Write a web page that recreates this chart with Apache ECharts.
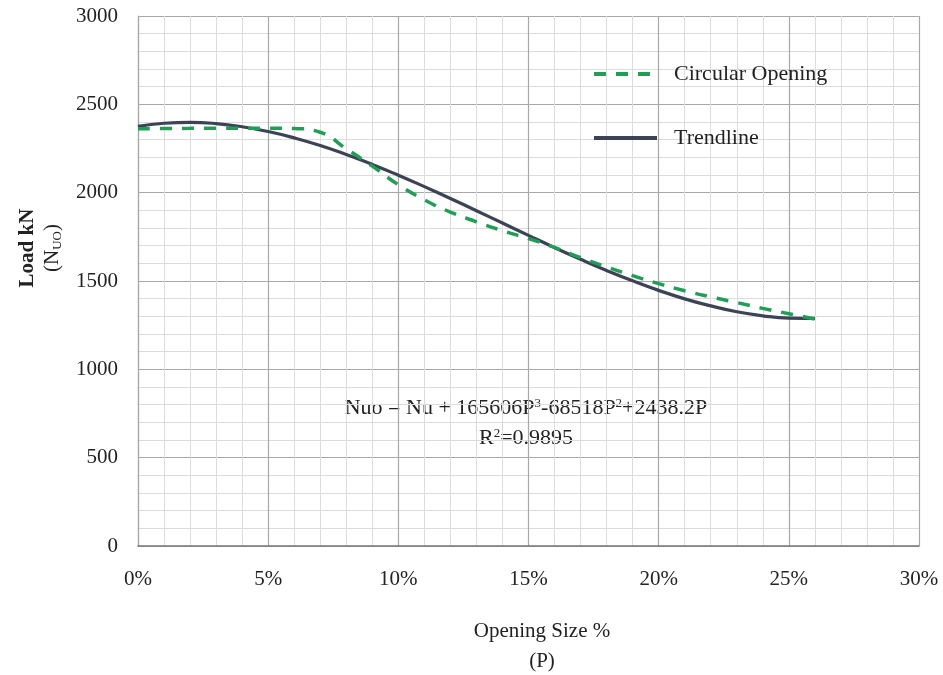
<!DOCTYPE html>
<html>
<head>
<meta charset="utf-8">
<script src="https://cdn.jsdelivr.net/npm/echarts@6/dist/echarts.min.js"></script>
<style>
  html, body { margin: 0; padding: 0; background: #fff; }
  #chart { width: 943px; height: 675px; }
</style>
</head>
<body>
<div id="chart"></div>
<script>
  // opening size P in percent
  var openingPct = [0, 1, 2, 3, 4, 5, 6, 7, 8, 9, 10, 11, 12, 13, 14, 15, 16, 17, 18, 19, 20, 21, 22, 23, 24, 25, 26];
  // circular opening test results (kN)
  var circularLoad = [2362, 2363, 2364, 2365, 2365, 2365, 2363, 2342, 2248, 2150, 2045, 1960, 1890, 1835, 1785, 1740, 1690, 1632, 1580, 1530, 1485, 1445, 1410, 1378, 1345, 1315, 1285];
  // trendline (kN)
  var trendLoad = [2375, 2393, 2398, 2391, 2373, 2346, 2310, 2267, 2216, 2160, 2099, 2034, 1967, 1898, 1828, 1758, 1689, 1623, 1560, 1501, 1447, 1399, 1359, 1326, 1303, 1290, 1288];

  var fontFam = 'Liberation Serif';
  var chart = echarts.init(document.getElementById('chart'));

  function pairs(ys) {
    return openingPct.map(function (x, i) { return [x, ys[i]]; });
  }

  var option = {
    backgroundColor: '#fff',
    animation: false,
    textStyle: { fontFamily: fontFam, color: '#222' },
    grid: { left: 138, right: 24, top: 16, bottom: 129 },
    legend: {
      orient: 'vertical',
      left: 587,
      top: 58,
      itemWidth: 63,
      itemHeight: 14,
      itemGap: 42,
      itemStyle: { opacity: 0 },
      lineStyle: { width: 4 },
      textStyle: { fontFamily: fontFam, fontSize: 22, color: '#222', padding: [0, 0, 0, 12] },
      data: ['Circular Opening', 'Trendline']
    },
    xAxis: {
      type: 'value',
      min: 0,
      max: 30,
      interval: 5,
      axisLine: { show: true, lineStyle: { color: '#777', width: 1.5 } },
      axisTick: { show: false },
      axisLabel: { formatter: '{value}%', fontFamily: fontFam, fontSize: 21, color: '#222', margin: 23 },
      splitLine: { show: true, lineStyle: { color: '#a8a8a8', width: 1.2 } },
      minorTick: { show: false, splitNumber: 5 },
      minorSplitLine: { show: true, lineStyle: { color: '#dcdcdc', width: 1 } }
    },
    yAxis: {
      type: 'value',
      min: 0,
      max: 3000,
      interval: 500,
      axisLine: { show: true, lineStyle: { color: '#a8a8a8', width: 1.2 } },
      axisTick: { show: false },
      axisLabel: {
        formatter: function (v) { return String(v); },
        fontFamily: fontFam, fontSize: 21, color: '#222', margin: 20
      },
      splitLine: { show: true, lineStyle: { color: '#a8a8a8', width: 1.2 } },
      minorTick: { show: false, splitNumber: 5 },
      minorSplitLine: { show: true, lineStyle: { color: '#dcdcdc', width: 1 } }
    },
    series: [
      {
        name: 'Circular Opening',
        type: 'line',
        data: pairs(circularLoad),
        smooth: true,
        symbol: 'none',
        z: 3,
        lineStyle: { color: '#1f9e55', width: 3.5, type: [12, 10] },
        itemStyle: { color: '#1f9e55' }
      },
      {
        name: 'Trendline',
        type: 'line',
        data: pairs(trendLoad),
        smooth: true,
        symbol: 'none',
        z: 2,
        lineStyle: { color: '#3b4354', width: 3.2 },
        itemStyle: { color: '#3b4354' }
      }
    ],
    graphic: [
      {
        type: 'text',
        x: 40,
        y: 248,
        rotation: Math.PI / 2,
        style: {
          text: '{b|Load kN}\n{n|(N}{s|UO}{n|)}',
          align: 'center',
          verticalAlign: 'middle',
          fontFamily: fontFam,
          fill: '#222',
          rich: {
            b: { fontSize: 21, fontWeight: 'bold', fontFamily: fontFam, lineHeight: 24 },
            n: { fontSize: 21, fontFamily: fontFam, lineHeight: 24 },
            s: { fontSize: 13, fontFamily: fontFam, verticalAlign: 'bottom', lineHeight: 24 }
          }
        }
      },
      {
        type: 'text',
        x: 542,
        y: 646,
        style: {
          text: 'Opening Size %\n(P)',
          align: 'center',
          verticalAlign: 'middle',
          fontFamily: fontFam,
          fontSize: 21,
          lineHeight: 30,
          fill: '#222'
        }
      },
      {
        type: 'text',
        x: 526,
        y: 423,
        style: {
          text: '{n|Nuo = Nu + 165606P}{p|3}{n|-68518P}{p|2}{n|+2438.2P}\n{n|R}{p|2}{n|=0.9895}',
          align: 'center',
          verticalAlign: 'middle',
          fontFamily: fontFam,
          fill: '#222',
          rich: {
            n: { fontSize: 22, fontFamily: fontFam, lineHeight: 30 },
            p: { fontSize: 13, fontFamily: fontFam, verticalAlign: 'top', lineHeight: 30, padding: [4, 0, 0, 0] }
          }
        }
      }
    ]
  };

  chart.setOption(option);
</script>
</body>
</html>
